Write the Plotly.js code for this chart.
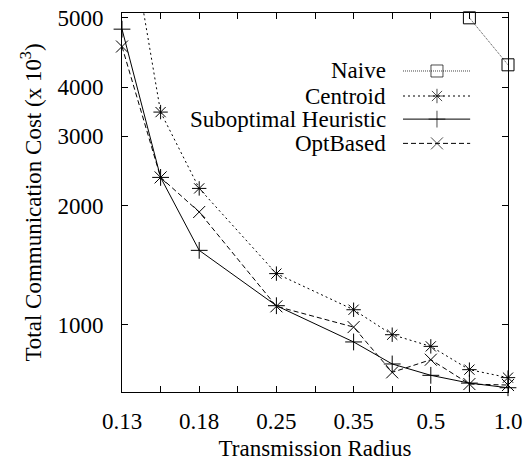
<!DOCTYPE html>
<html>
<head>
<meta charset="utf-8">
<script src="https://cdn.plot.ly/plotly-3.0.1.min.js"></script>
<style>
  html, body { margin: 0; padding: 0; background: #fff; }
  #chart { width: 525px; height: 461px; }
</style>
</head>
<body>
<div id="chart"></div>
<script>
// Transmission radius categories (evenly spaced in the original figure)
const categories = ['0.13', '0.15', '0.18', '0.21', '0.25', '0.30', '0.35', '0.42', '0.5', '0.7', '1.0'];
const labeledTicks = ['0.13', '0.18', '0.25', '0.35', '0.5', '1.0'];

// Total communication cost (x 10^3)
const naive      = [null, null, null, null, null, null, null, null, null, 5995, 4557];
const centroid   = [13000, 3458, 2215, null, 1347, null, 1091, 943, 881, 769, 734];
const suboptimal = [5611, 2362, 1543, null, 1117, null, 904, 795, 744, 711, 692];
const optBased   = [5070, 2362, 1930, null, 1113, null, 986, 757, 815, 707, 703];

const yTickVals = [1000, 2000, 3000, 4000, 6000];
const yTickText = ['1000', '2000', '3000', '4000', '5000'];

const seriesNames = ['Naive', 'Centroid', 'Suboptimal Heuristic', 'OptBased'];

// categories are placed at equal steps (index positions) along the x axis
const xPos = categories.map((c, i) => i);
const labeledPos = labeledTicks.map(t => categories.indexOf(t));

const FONT = 'Liberation Serif, Times New Roman, serif';
const FS = 23;
const styles = [
  {line: {color: '#444', width: 1, dash: '1px,1px'}, symbol: 'square-open', size: 12},
  {line: {color: '#000', width: 1, dash: '2px,3px'}, symbol: 'asterisk-open', size: 12},
  {line: {color: '#000', width: 1, dash: 'solid'}, symbol: 'cross-thin-open', size: 12},
  {line: {color: '#000', width: 1, dash: '5px,3px'}, symbol: 'x-thin-open', size: 12}
];
const values = [naive, centroid, suboptimal, optBased];

const traces = values.map((v, i) => ({
  type: 'scatter',
  mode: 'lines+markers',
  x: xPos,
  y: v,
  text: categories,
  name: seriesNames[i],
  connectgaps: true,
  cliponaxis: false,
  line: styles[i].line,
  marker: {symbol: styles[i].symbol, size: styles[i].size, color: '#000',
           line: {color: '#000', width: 1}},
  showlegend: false
}));

// gnuplot-style key: right-aligned text, sample to the right (drawn on a hidden overlay axis)
const keyY = [0.847, 0.781, 0.720, 0.656];
const keyX = [0.728, 0.816, 0.902];
seriesNames.forEach((n, i) => {
  traces.push({
    type: 'scatter', mode: 'lines+markers',
    x: keyX, y: [keyY[i], keyY[i], keyY[i]],
    xaxis: 'x2', yaxis: 'y2',
    line: styles[i].line,
    marker: {symbol: styles[i].symbol, size: [0, styles[i].size, 0], color: '#000',
             line: {color: '#000', width: 1}},
    showlegend: false, hoverinfo: 'skip', cliponaxis: false
  });
});

const annotations = seriesNames.map((n, i) => ({
  xref: 'paper', yref: 'paper', x: 0.689, y: keyY[i],
  xanchor: 'right', yanchor: 'middle', showarrow: false,
  text: n, font: {family: FONT, size: FS, color: '#000'}
}));

const layout = {
  width: 525, height: 461,
  margin: {l: 122, r: 17, t: 13, b: 69},
  paper_bgcolor: '#fff', plot_bgcolor: '#fff',
  font: {family: FONT, size: FS, color: '#000'},
  showlegend: false,
  xaxis: {
    type: 'linear', range: [0, categories.length - 1],
    tickmode: 'array', tickvals: labeledPos, ticktext: labeledTicks,
    ticks: 'inside', ticklen: 6, tickwidth: 1, tickcolor: '#000',
    minor: {ticks: 'inside', dtick: 1, tick0: 0, ticklen: 6, tickwidth: 1, tickcolor: '#000', showgrid: false},
    showline: true, linecolor: '#000', linewidth: 1, mirror: 'ticks',
    showgrid: false, zeroline: false,
    ticklabelstandoff: 8,
    title: {text: 'Transmission Radius', font: {family: FONT, size: FS}, standoff: 25}
  },
  yaxis: {
    type: 'log', range: [Math.log10(675), Math.log10(6166)],
    tickmode: 'array', tickvals: yTickVals, ticktext: yTickText,
    ticks: 'inside', ticklen: 6, tickwidth: 1, tickcolor: '#000',
    showline: true, linecolor: '#000', linewidth: 1, mirror: 'ticks',
    showgrid: false, zeroline: false,
    ticklabelstandoff: 13,
    title: {text: 'Total Communication Cost (x 10<sup>3</sup>)', font: {family: FONT, size: FS}, standoff: 9}
  },
  xaxis2: {overlaying: 'x', range: [0, 1], visible: false, fixedrange: true},
  yaxis2: {overlaying: 'y', range: [0, 1], visible: false, fixedrange: true},
  annotations: annotations
};

Plotly.newPlot('chart', traces, layout, {displayModeBar: false, staticPlot: true});
</script>
</body>
</html>
